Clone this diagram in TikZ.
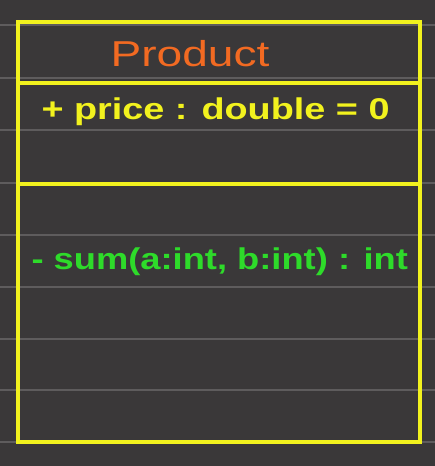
\documentclass[tikz,border=0pt]{standalone}
\usepackage{fontspec}
\setmainfont{Liberation Sans}
\usepackage{tikz}
\definecolor{board}{HTML}{3A3839}
\definecolor{rule}{HTML}{5E5C5D}
\definecolor{chalkY}{HTML}{F2F21E}
\definecolor{chalkO}{HTML}{F26A22}
\definecolor{chalkG}{HTML}{2EDB2A}
\newcommand{\wide}[2]{\scalebox{#1}[1]{#2}}

\begin{document}
\begin{tikzpicture}[x=1pt,y=-1pt]
			
			\fill[board] (0,0) rectangle (435,466);
			\useasboundingbox (0,0) rectangle (435,466);
			
			\foreach \yy in {25,78,130,183,235,287,339,390,442}
			\draw[rule, line width=1.2pt] (0,\yy) -- (435,\yy);
			
			\draw[chalkY, line width=4pt] (18,22) rectangle (420,442);
			\draw[chalkY, line width=4pt] (20,83) -- (418,83);
			\draw[chalkY, line width=4pt] (20,184) -- (418,184);
			
			\draw(190,54) node[chalkO, font=\fontsize{36}{36}\selectfont](name){\wide{1.28}{Product}};
			\draw(38,112) node[chalkY, anchor=west, font=\fontsize{30}{30}\selectfont\bfseries](attr){\wide{1.26}{+ price : double = 0}};
			\draw(28,262) node[chalkG, anchor=west, font=\fontsize{30}{30}\selectfont\bfseries](oper){\wide{1.21}{- sum(a:int, b:int) : int}};
			
		\end{tikzpicture}
\end{document}
